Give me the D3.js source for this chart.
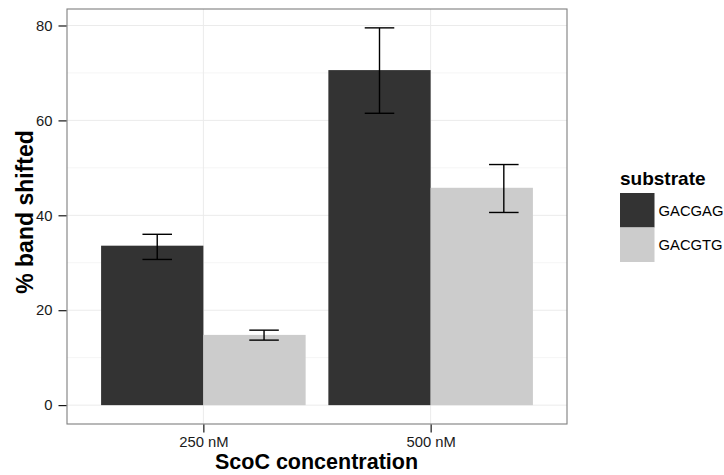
<!DOCTYPE html>
<html><head><meta charset="utf-8">
<script src="https://cdn.jsdelivr.net/npm/d3@7"></script>
<style>
body{margin:0;background:#fff;}
text{font-family:"Liberation Sans",Arial,Helvetica,sans-serif;}
</style></head>
<body><svg id="c" width="724" height="475"></svg>
<script>
const categories = ["250 nM", "500 nM"];
const substrates = ["GACGAG", "GACGTG"];
const colors = ["#333333", "#cccccc"];
const valGACGAG = [33.6, 70.6];
const valGACGTG = [14.8, 45.8];
const lowGACGAG = [30.7, 61.5];
const highGACGAG = [36.0, 79.5];
const lowGACGTG = [13.7, 40.6];
const highGACGTG = [15.8, 50.7];
// horizontal placement of error bars relative to category centre (category units), as drawn
const errOffGACGAG = [-0.203, -0.225];
const errOffGACGTG = [0.267, 0.322];
const yTicks = [0, 20, 40, 60, 80];
const yMinor = [10, 30, 50, 70];

const rows = [];
categories.forEach((c, i) => {
  rows.push({cat: c, sub: substrates[0], v: valGACGAG[i], lo: lowGACGAG[i], hi: highGACGAG[i], off: errOffGACGAG[i], k: 0});
  rows.push({cat: c, sub: substrates[1], v: valGACGTG[i], lo: lowGACGTG[i], hi: highGACGTG[i], off: errOffGACGTG[i], k: 1});
});

const svg = d3.select("#c");
const P = {l: 67, r: 567, t: 9, b: 424};
const FONT = "Liberation Sans, Arial, sans-serif";

const x = d3.scaleLinear().domain([0.4, 2.6]).range([P.l, P.r]);
const ymax = d3.max(rows, d => d.hi);
const y = d3.scaleLinear().domain([-ymax * 0.05, ymax * 1.05]).range([P.b, P.t]);

const g = svg.append("g");
g.selectAll("line.minor").data(yMinor).join("line")
  .attr("x1", P.l).attr("x2", P.r).attr("y1", d => y(d)).attr("y2", d => y(d))
  .attr("stroke", "#f5f5f5").attr("stroke-width", 1);
g.selectAll("line.major").data(yTicks).join("line")
  .attr("x1", P.l).attr("x2", P.r).attr("y1", d => y(d)).attr("y2", d => y(d))
  .attr("stroke", "#ebebeb").attr("stroke-width", 1);
g.selectAll("line.vmaj").data(categories).join("line")
  .attr("x1", (d, i) => x(i + 1)).attr("x2", (d, i) => x(i + 1)).attr("y1", P.t).attr("y2", P.b)
  .attr("stroke", "#ebebeb").attr("stroke-width", 1);

const bw = 0.45;
g.selectAll("rect.bar").data(rows).join("rect")
  .attr("x", d => x(categories.indexOf(d.cat) + 1 + (d.k === 0 ? -bw : 0)))
  .attr("width", x(bw) - x(0))
  .attr("y", d => y(d.v))
  .attr("height", d => y(0) - y(d.v))
  .attr("fill", d => colors[d.k]);

const ew = 0.065;
const cx = d => categories.indexOf(d.cat) + 1 + d.off;
const eb = g.selectAll("g.err").data(rows).join("g")
  .attr("stroke", "#000").attr("stroke-width", 1.4).attr("fill", "none");
eb.append("line")
  .attr("x1", d => x(cx(d))).attr("x2", d => x(cx(d)))
  .attr("y1", d => y(d.lo)).attr("y2", d => y(d.hi));
eb.append("line")
  .attr("x1", d => x(cx(d) - ew)).attr("x2", d => x(cx(d) + ew))
  .attr("y1", d => y(d.hi)).attr("y2", d => y(d.hi));
eb.append("line")
  .attr("x1", d => x(cx(d) - ew)).attr("x2", d => x(cx(d) + ew))
  .attr("y1", d => y(d.lo)).attr("y2", d => y(d.lo));

svg.append("rect").attr("x", P.l).attr("y", P.t).attr("width", P.r - P.l).attr("height", P.b - P.t)
  .attr("fill", "none").attr("stroke", "#7f7f7f").attr("stroke-width", 1.1);

const yAxis = d3.axisLeft(y).tickValues(yTicks).tickSize(8).tickPadding(6);
const ya = svg.append("g").attr("transform", `translate(${P.l - 0.5},0)`).call(yAxis);
ya.select(".domain").remove();
ya.selectAll("line").attr("stroke", "#000").attr("stroke-width", 1.1);
ya.selectAll("text").attr("font-size", 14.8).attr("fill", "#1a1a1a").attr("font-family", FONT);

const xAxis = d3.axisBottom(x).tickValues([1, 2]).tickFormat(d => categories[d - 1]).tickSize(8).tickPadding(4);
const xa = svg.append("g").attr("transform", `translate(0,${P.b + 0.5})`).call(xAxis);
xa.select(".domain").remove();
xa.selectAll("line").attr("stroke", "#000").attr("stroke-width", 1.1);
xa.selectAll("text").attr("font-size", 14.8).attr("fill", "#1a1a1a").attr("font-family", FONT);

svg.append("text").attr("x", 316.5).attr("y", 469).attr("text-anchor", "middle")
  .attr("font-size", 21.5).attr("font-weight", "bold").attr("fill", "#000").text("ScoC concentration");
svg.append("text").attr("transform", `translate(33,212) rotate(-90)`).attr("text-anchor", "middle")
  .attr("font-size", 23).attr("font-weight", "bold").attr("fill", "#000").text("% band shifted");

const L = svg.append("g").attr("transform", "translate(620,193)");
L.append("text").attr("x", 0).attr("y", -8).attr("font-size", 19).attr("font-weight", "bold").attr("fill", "#000").text("substrate");
const ks = 34.5;
substrates.forEach((s, i) => {
  L.append("rect").attr("x", 0).attr("y", i * ks).attr("width", ks).attr("height", ks).attr("fill", colors[i]);
  L.append("text").attr("x", ks + 4).attr("y", i * ks + ks / 2 + 5.5).attr("font-size", 14.8).attr("fill", "#000").text(s);
});
</script></body></html>
